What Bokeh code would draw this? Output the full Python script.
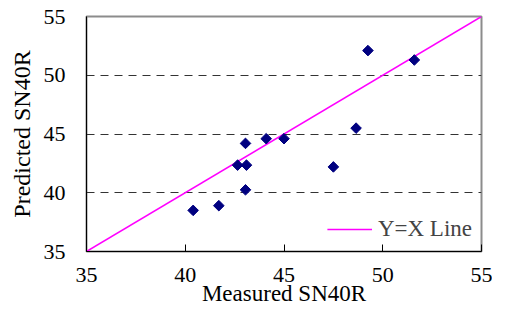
from bokeh.plotting import figure
from bokeh.models import Range1d, FixedTicker, Legend, LegendItem
from bokeh.embed import file_html
from bokeh.resources import INLINE
import math

measured = [40.4, 41.7, 42.65, 43.1, 43.05, 43.05, 44.1, 45.0, 47.5, 48.65, 49.25, 51.6]
predicted = [38.5, 38.9, 42.35, 42.35, 40.25, 44.2, 44.6, 44.6, 42.2, 45.5, 52.1, 51.3]
line_x = [35, 55]
line_y = [35, 55]
ticks = [35, 40, 45, 50, 55]
grid_ticks = [40, 45, 50]
x_label = "Measured SN40R"
y_label = "Predicted SN40R"

FONT = "Liberation Serif"

p = figure(width=492, height=308, output_backend="svg", toolbar_location=None,
           x_range=Range1d(35, 55), y_range=Range1d(35, 55),
           min_border_left=86, min_border_right=11, min_border_top=16, min_border_bottom=57)

p.outline_line_color = "#8c8c8c"
p.outline_line_width = 2
p.background_fill_color = "white"
p.border_fill_color = "white"

p.xgrid.visible = False
p.ygrid.ticker = FixedTicker(ticks=grid_ticks)
p.ygrid.grid_line_color = "#333333"
p.ygrid.grid_line_dash = "8 6"
p.ygrid.grid_line_width = 1

for ax in (p.xaxis[0], p.yaxis[0]):
    ax.ticker = FixedTicker(ticks=ticks)
    ax.axis_line_color = "black"
    ax.axis_line_width = 1
    ax.major_label_text_font = FONT
    ax.major_label_text_font_size = "22px"
    ax.major_label_text_color = "black"
    ax.axis_label_text_font = FONT
    ax.axis_label_text_font_size = "24px"
    ax.axis_label_text_font_style = "normal"
    ax.axis_label_text_color = "black"
    ax.minor_tick_line_color = None

p.xaxis.major_tick_in = 7
p.xaxis.major_tick_out = 0
p.xaxis.major_tick_line_color = "black"
p.xaxis.major_label_standoff = 16
p.xaxis.axis_label = x_label
p.xaxis.axis_label_text_font_size = "23px"
p.xaxis.axis_label_standoff = -4

p.yaxis.major_tick_in = 0
p.yaxis.major_tick_out = 0
p.yaxis.major_label_standoff = 21
p.yaxis.axis_label_standoff = 6
p.yaxis.axis_label = y_label

ln = p.line(line_x, line_y, line_color="#FF00FF", line_width=1.5)
p.scatter(measured, predicted, marker="square", angle=math.pi / 4, size=7.5,
          fill_color="#000080", line_color="#000080")

legend = Legend(items=[LegendItem(label="Y=X Line", renderers=[ln])],
                location="bottom_right", border_line_alpha=0, background_fill_alpha=0,
                label_text_font=FONT, label_text_font_size="23px",
                glyph_width=45, glyph_height=26, label_height=26, label_standoff=6,
                padding=9, margin=0)
p.add_layout(legend)

open("out.html", "w").write(file_html(p, INLINE))
